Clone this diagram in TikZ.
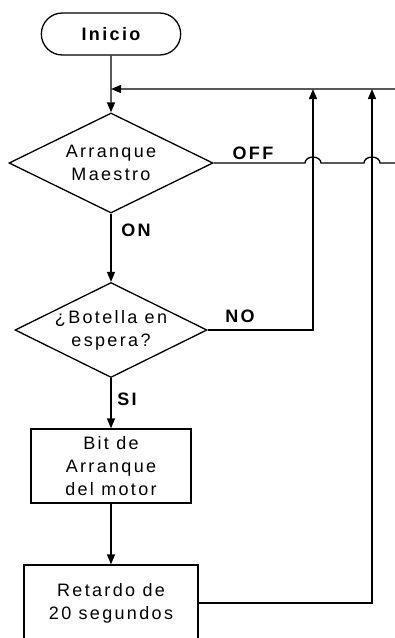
\documentclass[tikz,border=0pt]{standalone}
\usepackage{fontspec}
\setmainfont{Liberation Sans}[LetterSpace=13]
\usetikzlibrary{shapes.geometric,shapes.misc,arrows.meta}

\begin{document}
\begin{tikzpicture}[x=1pt, y=1pt, line width=1.3pt,
  txt/.style={font=\fontsize{18}{23}\selectfont, align=center},
  term/.style={rounded rectangle, draw, txt, minimum width=146pt, minimum height=42pt,
               font=\fontsize{18}{23}\selectfont\bfseries},
  decis/.style={diamond, draw, txt, aspect=2, inner sep=-8pt},
  proc/.style={rectangle, draw, txt, inner sep=2pt},
  lbl/.style={font=\fontsize{18}{23}\selectfont\bfseries},
  arr/.style={-{Triangle[length=10pt, width=8pt]}}]

\useasboundingbox (0,0) rectangle (395,-638);
\clip (0,0) rectangle (395,-638);

%% main column
\node[term] (inicio) at (111,-34) {Inicio};
\node[decis, minimum width=204pt, minimum height=100pt] (dec1) at (111,-163) {Arranque\\Maestro};
\node[decis, minimum width=192pt, minimum height=95pt] (dec2) at (111,-330) {¿Botella en\\espera?};
\node[proc, minimum width=160pt, minimum height=74pt] (bit) at (111,-466) {Bit de\\Arranque\\del motor};
\node[proc, minimum width=174pt, minimum height=76pt] (ret) at (111,-603) {Retardo de\\20 segundos};

\node[lbl] (off) at (253,-153) {OFF};
\node[lbl] (on)  at (136,-230) {ON};
\node[lbl] (no)  at (240,-316) {NO};
\node[lbl] (si)  at (127,-399) {SI};

\coordinate (join) at (111,-89);
\coordinate (offc) at (420,-163);
\coordinate (topc) at (420,-89);
\coordinate (noc)  at (313,-330);
\coordinate (upA)  at (313,-89);
\coordinate (retc) at (372,-603);
\coordinate (upB)  at (372,-89);

\draw[arr] (inicio) -- (dec1);
\draw[arr] (dec1) -- (dec2);
\draw[arr] (dec2) -- (bit);
\draw[arr] (bit) -- (ret);

%% return lines
\draw[arr] (dec1.east) -- (305,-163) arc[start angle=180, end angle=0, x radius=8, y radius=6]
  -- (364,-163) arc[start angle=180, end angle=0, x radius=8, y radius=6]
  -- (offc) -- (topc) -- (join);
\draw[arr] (dec2.east) -- (noc) -- (upA);
\draw[arr] (ret.east) -- (retc) -- (upB);
\end{tikzpicture}
\end{document}
